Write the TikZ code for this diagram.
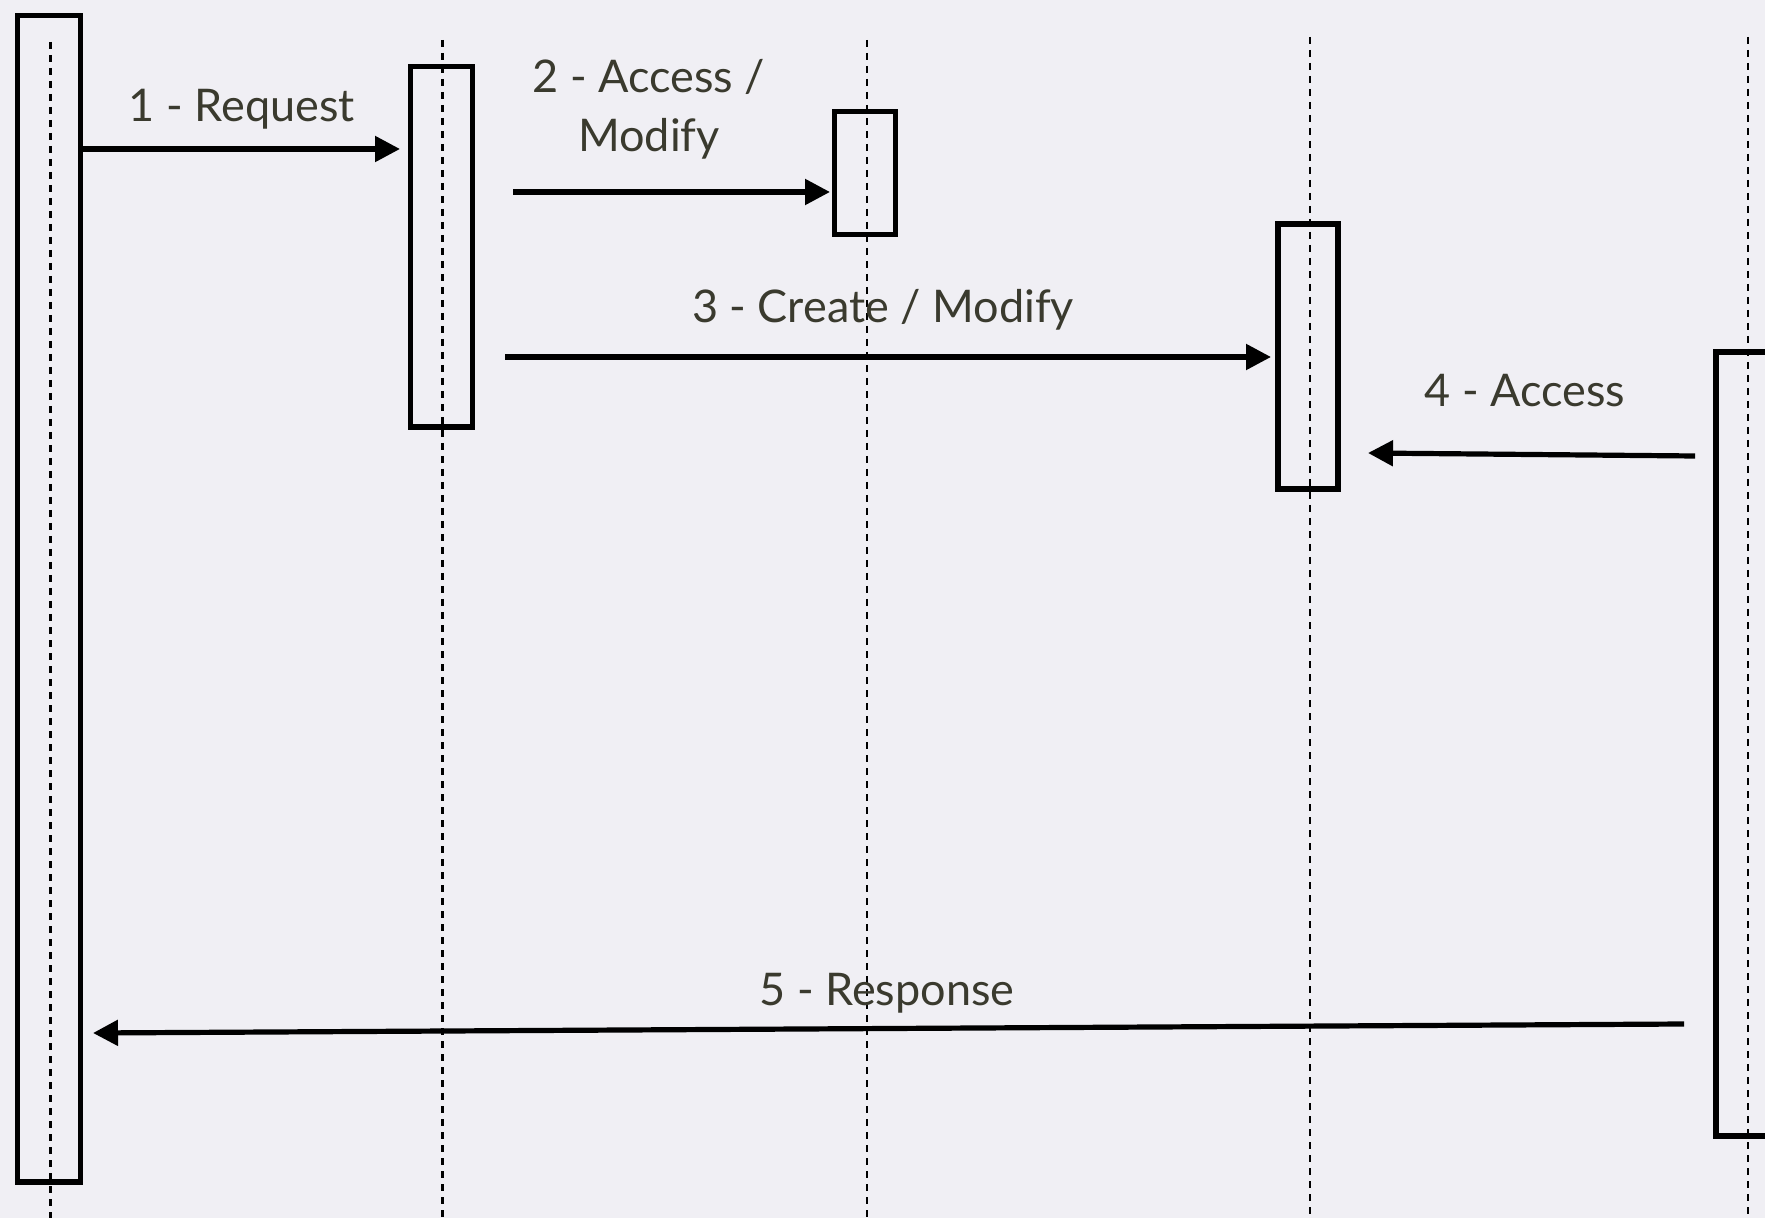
\documentclass[tikz,border=0pt]{standalone}
\usepackage{fontspec}
\setmainfont{Lato}
\usetikzlibrary{arrows.meta}
\definecolor{bgcol}{RGB}{240,239,244}
\definecolor{txtcol}{RGB}{58,58,46}
\begin{document}
\begin{tikzpicture}[x=0.5pt,y=-0.5pt,
  actbox/.style={draw=black, line width=2.6pt, inner sep=0pt, rectangle},
  lifeline/.style={draw=black, line width=1.4pt, dash pattern=on 3.5pt off 3pt},
  msg/.style={draw=black, line width=2.6pt, -{Triangle[length=12.5pt,width=12.5pt]}},
  lbl/.style={text=txtcol, inner sep=0pt, font=\fontsize{22.5}{29.5}\selectfont, align=center}]
\fill[bgcol] (0,0) rectangle (1765,1218);
\useasboundingbox (0,0) rectangle (1765,1218);
% lifelines
\coordinate (la0) at (50.7,42);  \coordinate (la1) at (50.7,1218);
\coordinate (lb0) at (442.7,40); \coordinate (lb1) at (442.7,1218);
\coordinate (lc0) at (867,40);   \coordinate (lc1) at (867,1218);
\coordinate (ld0) at (1310,37);  \coordinate (ld1) at (1310,1218);
\coordinate (le0) at (1748,37);  \coordinate (le1) at (1748,1218);
\draw[lifeline] (la0) -- (la1);
\draw[lifeline] (lb0) -- (lb1);
\draw[lifeline] (lc0) -- (lc1);
\draw[lifeline] (ld0) -- (ld1);
\draw[lifeline] (le0) -- (le1);
% activation boxes
\node[actbox, minimum width=31.5pt, minimum height=583.25pt] (A) at (49,598.75) {};
\node[actbox, minimum width=31pt, minimum height=180.25pt] (B) at (441.5,246.75) {};
\node[actbox, minimum width=30.5pt, minimum height=61.5pt] (C) at (865,173) {};
\node[actbox, minimum width=30pt, minimum height=132.5pt] (D) at (1308,356.5) {};
\node[actbox, minimum width=31pt, minimum height=392pt] (E) at (1747,744) {};
% message end points
\coordinate (m1s) at (82,149);    \coordinate (m1e) at (400,149);
\coordinate (m2s) at (513,192);   \coordinate (m2e) at (830,192);
\coordinate (m3s) at (505,357);   \coordinate (m3e) at (1271,357);
\coordinate (m4s) at (1695,456);  \coordinate (m4e) at (1368,453);
\coordinate (m5s) at (1684,1024); \coordinate (m5e) at (93,1033);
\draw[msg] (m1s) -- (m1e);
\draw[msg] (m2s) -- (m2e);
\draw[msg] (m3s) -- (m3e);
\draw[msg] (m4s) -- (m4e);
\draw[msg] (m5s) -- (m5e);
% labels
\node[lbl, anchor=base] (t1) at (242,122) {1 - Request};
\node[lbl, anchor=base] (t2) at (649,152) {2 - Access /\\Modify};
\node[lbl, anchor=base] (t3) at (883,323) {3 - Create / Modify};
\node[lbl, anchor=base] (t4) at (1525,407) {4 - Access};
\node[lbl, anchor=base] (t5) at (887,1005) {5 - Response};
\end{tikzpicture}
\end{document}
